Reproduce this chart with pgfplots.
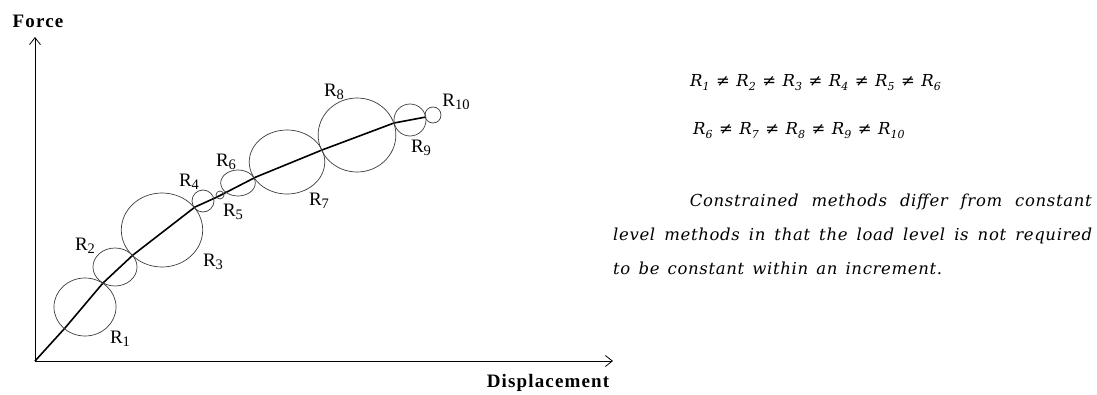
\documentclass[border=0pt]{standalone}
\usepackage{pgfplots}
\pgfplotsset{compat=1.18}
\usepackage{fontspec}
\setmainfont{Liberation Serif}
\newfontfamily\labfont[LetterSpace=6]{Liberation Serif}
\newfontfamily\dvs{DejaVu Serif}
\newfontfamily\dvsi[LetterSpace=4]{DejaVu Serif}
\usetikzlibrary{arrows.meta}
\definecolor{circ}{RGB}{60,60,60}
\newcommand{\Rl}[1]{\fontsize{19}{19}\selectfont R\raisebox{-3pt}{\fontsize{14.5}{14.5}\selectfont #1}}
\newcommand{\Ri}[1]{\textit{R}\raisebox{-4pt}{\fontsize{11}{11}\selectfont\itshape #1}}
\newcommand{\neqs}{\hspace{6.5pt}{\upshape ≠}\hspace{6.5pt}}
\begin{document}
\begin{tikzpicture}[x=1pt,y=1pt]
\useasboundingbox (-35,-33) rectangle (1062,361);
\begin{axis}[
  at={(0,0)}, anchor=south west,
  scale only axis, width=578pt, height=324pt,
  xmin=0, xmax=578, ymin=0, ymax=324,
  axis lines*=left,
  axis line style={line width=0.8pt, -{Straight Barb[length=7pt,width=11pt]}},
  xtick=\empty, ytick=\empty,
  clip=false,
]
% curve
\addplot[black, line width=1.6pt, line join=round, mark=none] coordinates {
 (0,0) (30,33) (68,78) (98,106) (160,154) (180,163) (188,167) (221,184) (287,211) (359,238) (391,244)
};
% circles
\addplot[only marks, mark=o, mark size=29pt, mark options={draw=circ, line width=0.7pt, xscale=1.07}] coordinates {(50,54)};
\addplot[only marks, mark=o, mark size=19pt, mark options={draw=circ, line width=0.7pt, xscale=1.16}] coordinates {(80,94)};
\addplot[only marks, mark=o, mark size=37pt, mark options={draw=circ, line width=0.7pt, xscale=1.1}] coordinates {(127,131)};
\addplot[only marks, mark=o, mark size=11pt, mark options={draw=circ, line width=0.7pt}] coordinates {(168,160)};
\addplot[only marks, mark=o, mark size=4pt, mark options={draw=circ, line width=0.7pt}] coordinates {(185,166)};
\addplot[only marks, mark=o, mark size=13pt, mark options={draw=circ, line width=0.7pt, xscale=1.33}] coordinates {(203,178)};
\addplot[only marks, mark=o, mark size=32pt, mark options={draw=circ, line width=0.7pt, xscale=1.18}] coordinates {(252,199)};
\addplot[only marks, mark=o, mark size=37pt, mark options={draw=circ, line width=0.7pt, xscale=1.05}] coordinates {(322,226)};
\addplot[only marks, mark=o, mark size=16pt, mark options={draw=circ, line width=0.7pt}] coordinates {(375,241)};
\addplot[only marks, mark=o, mark size=8pt, mark options={draw=circ, line width=0.7pt}] coordinates {(398,246)};
% labels
\node at (axis cs:85,22) {\Rl{1}};
\node at (axis cs:50,115) {\Rl{2}};
\node at (axis cs:178,99) {\Rl{3}};
\node at (axis cs:154,179) {\Rl{4}};
\node at (axis cs:198,149) {\Rl{5}};
\node at (axis cs:191,199) {\Rl{6}};
\node at (axis cs:284,160) {\Rl{7}};
\node at (axis cs:299,269) {\Rl{8}};
\node at (axis cs:386,213) {\Rl{9}};
\node at (axis cs:421,259) {\Rl{10}};
\node at (axis cs:3,340) {\labfont\fontsize{19}{19}\selectfont\bfseries Force};
\node at (axis cs:513,-22) {\labfont\fontsize{19}{19}\selectfont\bfseries Displacement};
% right text
\node[anchor=base west, inner sep=0pt] at (axis cs:655,274) {\dvs\fontsize{16.5}{16.5}\selectfont \Ri{1}\neqs\Ri{2}\neqs\Ri{3}\neqs\Ri{4}\neqs\Ri{5}\neqs\Ri{6}};
\node[anchor=base west, inner sep=0pt] at (axis cs:658,226) {\dvs\fontsize{16.5}{16.5}\selectfont \Ri{6}\neqs\Ri{7}\neqs\Ri{8}\neqs\Ri{9}\neqs\Ri{10}};
\node[anchor=base east, inner sep=0pt] at (axis cs:1057,155) {\dvsi\itshape\fontsize{16.5}{16.5}\selectfont \makebox[402pt][s]{Constrained methods differ from constant}};
\node[anchor=base west, inner sep=0pt] at (axis cs:578,121) {\dvsi\itshape\fontsize{16.5}{16.5}\selectfont \makebox[479pt][s]{level methods in that the load level is not required}};
\node[anchor=base west, inner sep=0pt] at (axis cs:578,87) {\dvsi\itshape\fontsize{16.5}{16.5}\selectfont \makebox[329pt][s]{to be constant within an increment.}};
\end{axis}
\end{tikzpicture}
\end{document}
